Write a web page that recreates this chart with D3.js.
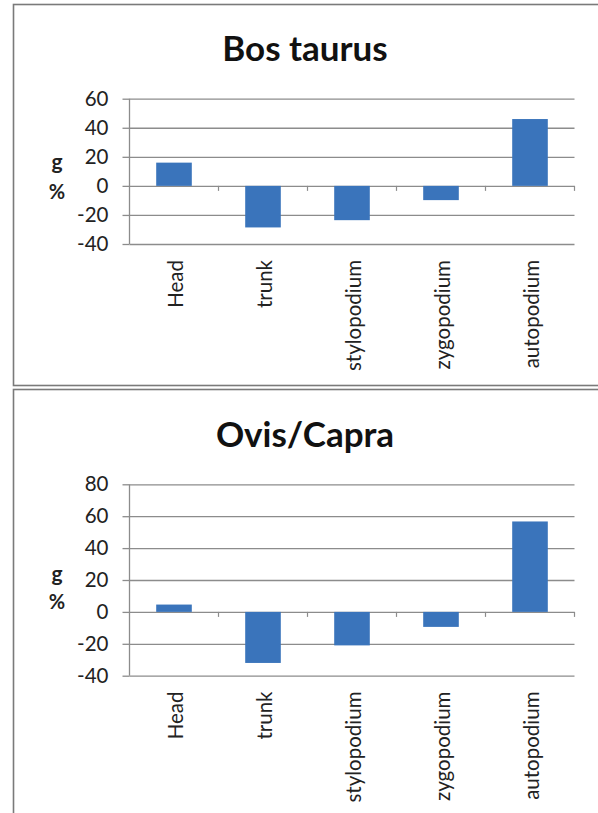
<!DOCTYPE html>
<html>
<head>
<meta charset="utf-8">
<script src="https://cdn.jsdelivr.net/npm/d3@7"></script>
<style>
  html, body { margin: 0; padding: 0; background: #fff; }
  svg { display: block; }
</style>
</head>
<body>
<svg id="chart" width="598" height="813"></svg>
<script>
const categories = ["Head", "trunk", "stylopodium", "zygopodium", "autopodium"];
const titles = ["Bos taurus", "Ovis/Capra"];
const bosValues = [16, -28.6, -23.6, -9.8, 46];
const ovisValues = [4.6, -32, -21, -9.4, 56.7];
const bosTicks = [-40, -20, 0, 20, 40, 60];
const ovisTicks = [-40, -20, 0, 20, 40, 60, 80];
const yLabelLines = ["g", "%"];

const svg = d3.select("#chart");
const FONT = "Lato, 'Open Sans', sans-serif";
const barColor = "#3a74bb";
const gridColor = "#8c8c8c";

const panels = [
  { title: titles[0], values: bosValues, ticks: bosTicks, top: 4.5, bottom: 385.5,
    titleY: 47, yTop: 98.7, yBottom: 244, gY: 160, pY: 191, labelY: 260 },
  { title: titles[1], values: ovisValues, ticks: ovisTicks, top: 389.5, bottom: 830,
    titleY: 433, yTop: 484.3, yBottom: 675.7, gY: 572, pY: 601, labelY: 691.5 }
];

const x = d3.scaleBand().domain(categories).range([129.5, 574.5]).paddingInner(0.6).paddingOuter(0.3);

panels.forEach(p => {
  const g = svg.append("g");
  g.append("rect")
    .attr("x", 13.5).attr("y", p.top)
    .attr("width", 620).attr("height", p.bottom - p.top)
    .attr("fill", "#fff").attr("stroke", "#7a7a7a").attr("stroke-width", 1.6);

  g.append("text")
    .attr("x", 305).attr("y", p.titleY)
    .attr("text-anchor", "middle").attr("dominant-baseline", "central")
    .attr("font-family", FONT).attr("font-weight", "bold").attr("font-size", 35)
    .attr("fill", "#111").text(p.title);

  const y = d3.scaleLinear().domain(d3.extent(p.ticks)).range([p.yBottom, p.yTop]);

  const yAxis = d3.axisLeft(y).tickValues(p.ticks).tickSize(7).tickPadding(14).tickFormat(d3.format("d"));
  const ag = g.append("g").attr("transform", "translate(129.5,0)").call(yAxis);
  ag.select(".domain").attr("stroke", gridColor).attr("stroke-width", 1.3)
    .attr("d", `M0,${p.yTop}V${p.yBottom}`);
  ag.selectAll(".tick line").attr("stroke", gridColor).attr("stroke-width", 1.3);
  ag.selectAll(".tick text").attr("font-family", FONT).attr("font-size", 20.5).attr("fill", "#222")
    .text(d => d < 0 ? "-" + Math.abs(d) : d);
  ag.selectAll(".tick").append("line")
    .attr("x1", 0).attr("x2", 445).attr("stroke", gridColor).attr("stroke-width", 1.3);

  const bounds = categories.map((c, i) => 129.5 + (i + 1) * (445 / categories.length));
  g.selectAll(".ctick").data(bounds).enter().append("line")
    .attr("x1", d => d).attr("x2", d => d)
    .attr("y1", y(0)).attr("y2", y(0) + 5)
    .attr("stroke", gridColor).attr("stroke-width", 1.2);

  g.selectAll(".bar").data(p.values).enter().append("rect")
    .attr("x", (d, i) => x(categories[i]))
    .attr("width", x.bandwidth())
    .attr("y", d => y(Math.max(0, d)))
    .attr("height", d => Math.abs(y(d) - y(0)))
    .attr("fill", barColor);

  g.selectAll(".clab").data(categories).enter().append("text")
    .attr("transform", d => `translate(${x(d) + x.bandwidth() / 2},${p.labelY}) rotate(-90)`)
    .attr("text-anchor", "end").attr("dy", "0.45em")
    .attr("font-family", FONT).attr("font-size", 20.5).attr("fill", "#222")
    .text(d => d);

  g.append("text").attr("x", 57).attr("y", p.gY).attr("text-anchor", "middle")
    .attr("dominant-baseline", "central")
    .attr("font-family", FONT).attr("font-weight", "bold").attr("font-size", 21).attr("fill", "#222")
    .text(yLabelLines[0]);
  g.append("text").attr("x", 57).attr("y", p.pY).attr("text-anchor", "middle")
    .attr("dominant-baseline", "central")
    .attr("font-family", FONT).attr("font-weight", "bold").attr("font-size", 20).attr("fill", "#222")
    .text(yLabelLines[1]);
});
</script>
</body>
</html>
